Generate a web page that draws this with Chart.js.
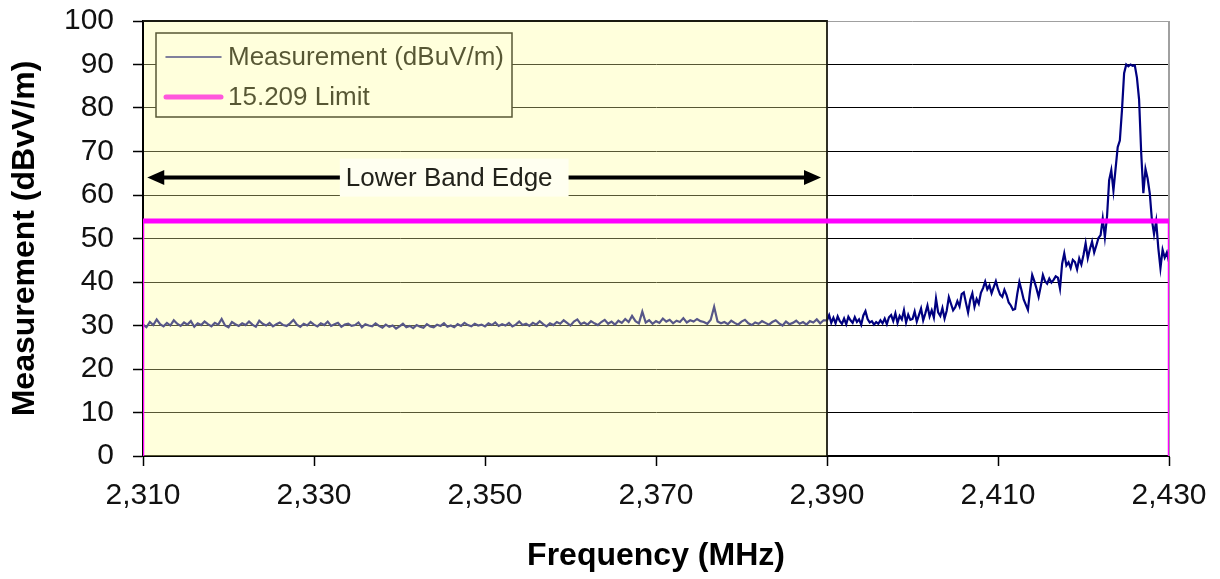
<!DOCTYPE html>
<html>
<head>
<meta charset="utf-8">
<script src="https://cdn.jsdelivr.net/npm/chart.js@4.4.1/dist/chart.umd.min.js"></script>
<style>
  html, body { margin: 0; padding: 0; background: #fff; }
  canvas { display: block; }
</style>
</head>
<body>
<canvas id="band-edge" width="1220" height="579"></canvas>
<script>
'use strict';

// Lower band edge sweep, 2310 - 2389.6 MHz, one reading every 0.4 MHz
const LOW_START = 2310;
const LOW_STEP  = 0.4;
const lowBandDbuv = [
  30.2, 29.6, 30.8, 30.1, 31.4, 30.3, 29.8, 30.6, 30.0, 31.2,
  30.4, 29.9, 30.7, 30.2, 31.0, 29.7, 30.5, 30.1, 30.9, 30.3,
  29.8, 30.6, 30.2, 31.5, 30.0, 29.6, 30.8, 30.3, 29.9, 30.5,
  30.1, 30.9, 30.2, 29.7, 31.1, 30.4, 30.0, 30.6, 29.8, 30.3,
  30.7, 30.1, 29.9, 30.5, 31.3, 30.2, 29.7, 30.4, 30.0, 30.8,
  30.2, 29.8, 30.5, 30.1, 30.9, 29.9, 30.3, 30.6, 29.7, 30.2,
  30.4, 29.9, 30.1, 30.7, 29.6, 30.3, 30.0, 29.8, 30.5, 29.9,
  29.5, 30.2, 29.7, 30.0, 29.3, 29.8, 30.4, 29.6, 29.9, 29.4,
  30.1, 29.7, 29.5, 30.3, 29.8, 29.6, 30.2, 29.9, 30.5, 29.7,
  30.0, 29.6, 30.3, 29.9, 30.6, 30.1, 29.8, 30.4, 30.0, 30.2,
  29.8, 30.5, 30.1, 30.7, 29.9, 30.3, 30.0, 30.6, 29.8, 30.2,
  30.9, 30.1, 30.4, 29.9, 30.6, 30.2, 31.0, 30.3, 29.8, 30.5,
  30.1, 30.8, 30.4, 31.2, 30.6, 30.0, 30.9, 31.4, 30.3, 30.7,
  30.2, 31.0, 30.5, 30.1, 30.8, 31.3, 30.4, 30.9, 30.2, 31.1,
  30.6, 31.5, 30.8, 32.2, 31.0, 30.5, 33.2, 30.7, 31.2, 30.4,
  31.0, 30.6, 31.6, 30.9, 31.3, 30.5, 31.1, 30.8, 31.7, 30.7,
  31.2, 30.9, 31.5, 31.0, 30.8, 30.4, 31.3, 34.3, 30.9, 30.5,
  30.8, 30.3, 31.1, 30.6, 30.2, 30.9, 31.3, 30.5, 30.1, 30.7,
  30.4, 31.0, 30.6, 30.2, 30.8, 31.2, 30.5, 30.0, 30.9, 30.3,
  30.6, 31.1, 30.4, 30.8, 30.2, 31.0, 30.7, 31.4, 30.5, 31.2,
];

// 2390 - 2430 MHz, one reading every 0.25 MHz (carrier near 2425 MHz)
const HIGH_START = 2390;
const HIGH_STEP  = 0.25;
const highBandDbuv = [
  31.2, 32.4, 30.6, 31.8, 30.5, 32.1, 31.0, 30.4,
  31.6, 30.3, 32.0, 31.2, 30.6, 31.9, 30.8, 31.4,
  30.2, 32.3, 33.3, 31.5, 30.7, 31.0, 30.2, 30.8,
  30.4, 31.2, 30.5, 31.6, 30.3, 31.9, 32.4, 31.0,
  32.8, 30.6, 32.2, 31.4, 33.5, 30.7, 32.5, 31.3,
  31.5, 33.2, 30.9, 32.4, 33.9, 31.2, 32.8, 34.6,
  32.1, 33.5, 31.8, 36.2, 33.0, 32.2, 34.0, 31.6,
  33.4, 36.5, 35.0, 33.5, 34.2, 35.6, 34.4, 37.2,
  37.6, 35.2, 33.0, 35.9, 37.4, 34.3, 36.1, 35.0,
  37.5, 38.6, 40.1, 38.3, 39.2, 37.4, 38.8, 40.2,
  38.4, 37.1, 36.6, 38.2, 37.0, 35.3, 34.6, 33.6,
  33.8, 37.2, 40.0, 38.1, 36.0, 34.8, 33.6, 38.0,
  41.6, 40.2, 38.5, 36.6, 39.0, 41.6, 40.2, 39.6,
  40.8, 39.9, 40.5, 41.3, 41.0, 38.5, 44.2, 46.6,
  43.8, 44.5, 43.2, 45.1, 44.6, 42.9, 45.4, 44.0,
  46.2, 48.9, 45.5, 47.6, 49.3, 46.8, 48.4, 50.1,
  50.8, 54.6, 50.3, 55.0, 63.4, 65.7, 61.0, 66.0,
  71.0, 72.5, 79.5, 88.0, 90.0, 89.6, 90.0, 89.7,
  89.8, 87.0, 82.0, 69.6, 60.4, 66.0, 63.8, 60.4,
  54.3, 51.0, 54.0, 47.8, 43.2, 47.4, 45.6, 46.8,
  44.6,
];

// FCC 15.209 limit, closed down to 0 at both ends of the sweep
const LIMIT_FREQ = [2310, 2310, 2430, 2430];
const LIMIT_DBUV = [0, 54, 54, 0];

const SERIES_LABELS = ['Measurement (dBuV/m)', '15.209 Limit'];
const X_TICKS       = [2310, 2330, 2350, 2370, 2390, 2410, 2430];
const X_TICK_LABELS = ['2,310', '2,330', '2,350', '2,370', '2,390', '2,410', '2,430'];
const Y_TICKS       = [0, 10, 20, 30, 40, 50, 60, 70, 80, 90, 100];

// restricted band shading + arrow annotation
const BAND_EDGE   = [2310, 2390];
const BAND_LABEL  = 'Lower Band Edge';
const ARROW_SPAN  = [2310.5, 2389.3];
const ARROW_LEVEL = 64;
const LABEL_FREQ  = 2346.4;

const MEAS_COLOR  = '#000080';
const LIMIT_COLOR = '#ff00ff';
const FONT        = '"Liberation Sans", Arial, sans-serif';

const measPoints = [
  ...lowBandDbuv.map((v, i) => ({ x: +(LOW_START + i * LOW_STEP).toFixed(2), y: v })),
  ...highBandDbuv.map((v, i) => ({ x: +(HIGH_START + i * HIGH_STEP).toFixed(2), y: v })),
];
const limitPoints = LIMIT_FREQ.map((f, i) => ({ x: f, y: LIMIT_DBUV[i] }));

function drawLegend(ctx, area) {
  const left = area.left + 13;
  const top  = area.top + 12;
  ctx.save();
  ctx.fillStyle = '#fff';
  ctx.fillRect(left, top, 356, 84);
  ctx.strokeStyle = '#000';
  ctx.lineWidth = 1.5;
  ctx.strokeRect(left, top, 356, 84);

  const rows = [
    { y: top + 24, color: MEAS_COLOR, width: 1.5 },
    { y: top + 64, color: LIMIT_COLOR, width: 5 },
  ];
  ctx.font = '26px ' + FONT;
  ctx.textBaseline = 'middle';
  ctx.lineCap = 'round';
  rows.forEach((r, i) => {
    ctx.strokeStyle = r.color;
    ctx.lineWidth = r.width;
    ctx.beginPath();
    ctx.moveTo(left + 10, r.y);
    ctx.lineTo(left + 65, r.y);
    ctx.stroke();
    ctx.fillStyle = '#000';
    ctx.fillText(SERIES_LABELS[i], left + 72, r.y + 1);
  });
  ctx.restore();
}

function drawArrowHead(ctx, x, y, dir) {
  ctx.beginPath();
  ctx.moveTo(x, y);
  ctx.lineTo(x - dir * 17, y - 7.5);
  ctx.lineTo(x - dir * 17, y + 7.5);
  ctx.closePath();
  ctx.fill();
}

const bandPlugin = {
  id: 'bandShade',
  beforeDatasetsDraw(chart) {
    const { ctx, chartArea: a } = chart;
    // right edge of the plot frame
    ctx.save();
    ctx.strokeStyle = '#a0a0a0';
    ctx.lineWidth = 2;
    ctx.beginPath();
    ctx.moveTo(a.right, a.top);
    ctx.lineTo(a.right, a.bottom);
    ctx.stroke();
    ctx.restore();
  },
  beforeDatasetDraw(chart, args) {
    if (args.index !== 1) return;
    const { ctx, chartArea: a, scales: { x } } = chart;
    const x0 = x.getPixelForValue(BAND_EDGE[0]);
    const x1 = x.getPixelForValue(BAND_EDGE[1]);

    drawLegend(ctx, a);

    // translucent yellow wash over the restricted band (tints trace, grid and legend)
    ctx.save();
    ctx.fillStyle = 'rgba(255,255,153,0.34)';
    ctx.fillRect(x0 + 1, a.top, x1 - x0 - 1, a.bottom - a.top);
    ctx.strokeStyle = '#1a1a10';
    ctx.lineWidth = 1.8;
    ctx.beginPath();
    ctx.moveTo(x0, a.top);
    ctx.lineTo(x1, a.top);
    ctx.lineTo(x1, a.bottom);
    ctx.stroke();
    ctx.restore();
  },
  afterDatasetsDraw(chart) {
    const { ctx, scales: { x, y } } = chart;
    const yA = y.getPixelForValue(ARROW_LEVEL);
    const xa = x.getPixelForValue(ARROW_SPAN[0]);
    const xb = x.getPixelForValue(ARROW_SPAN[1]);

    ctx.save();
    ctx.strokeStyle = '#000';
    ctx.fillStyle = '#000';
    ctx.lineWidth = 4;
    ctx.beginPath();
    ctx.moveTo(xa + 10, yA);
    ctx.lineTo(xb - 10, yA);
    ctx.stroke();
    drawArrowHead(ctx, xa, yA, -1);
    drawArrowHead(ctx, xb, yA, 1);

    ctx.font = '26px ' + FONT;
    const tw = ctx.measureText(BAND_LABEL).width;
    const cx = x.getPixelForValue(LABEL_FREQ);
    const bw = tw + 22;
    ctx.fillStyle = '#fffff0';
    ctx.fillRect(cx - bw / 2, yA - 19, bw, 38);
    ctx.fillStyle = '#22221a';
    ctx.textBaseline = 'middle';
    ctx.fillText(BAND_LABEL, cx - bw / 2 + 6, yA + 1);
    ctx.restore();
  },
};

new Chart(document.getElementById('band-edge'), {
  type: 'line',
  data: {
    datasets: [
      {
        label: SERIES_LABELS[0],
        data: measPoints,
        borderColor: MEAS_COLOR,
        borderWidth: 2.2,
        pointRadius: 0,
        tension: 0,
        order: 2,
      },
      {
        label: SERIES_LABELS[1],
        data: limitPoints,
        borderColor: LIMIT_COLOR,
        borderWidth: 5,
        pointRadius: 0,
        tension: 0,
        order: 1,
        segment: {
          // the closing verticals are drawn thinner than the limit itself
          borderWidth: c => (c.p0.parsed.x === c.p1.parsed.x ? 2.5 : 5),
        },
      },
    ],
  },
  options: {
    responsive: false,
    animation: false,
    parsing: false,
    layout: { padding: { left: 0, top: 21, right: 51, bottom: 0 } },
    plugins: {
      legend:  { display: false },
      tooltip: { enabled: false },
    },
    scales: {
      x: {
        type: 'linear',
        min: 2310,
        max: 2430,
        afterBuildTicks: s => { s.ticks = X_TICKS.map(v => ({ value: v })); },
        afterFit: s => { s.height = 123; },
        ticks: {
          color: '#111',
          font: { family: FONT, size: 30 },
          padding: 12,
          maxRotation: 0,
          autoSkip: false,
          callback: (v, i) => X_TICK_LABELS[i],
        },
        grid: {
          drawOnChartArea: false,
          tickLength: 10,
          tickColor: '#000',
          tickWidth: 1.5,
        },
        border: { color: '#000', width: 2 },
        title: {
          display: true,
          text: 'Frequency (MHz)',
          color: '#000',
          font: { family: FONT, size: 32, weight: 'bold' },
          padding: { top: 0, bottom: 4 },
        },
      },
      y: {
        min: 0,
        max: 100,
        afterBuildTicks: s => { s.ticks = Y_TICKS.map(v => ({ value: v })); },
        afterFit: s => {
          s.width = 143;
          // keep the "100" label overhang from pushing the plot down
          s.paddingTop = 18;
          s.paddingBottom = 18;
        },
        ticks: {
          color: '#111',
          font: { family: FONT, size: 30 },
          padding: 19,
        },
        grid: {
          color: c => (c.tick && c.tick.value === 100 ? '#a0a0a0' : '#000'),
          lineWidth: 1,
          tickLength: 10,
          tickColor: '#000',
          tickWidth: 1.5,
        },
        border: { color: '#000', width: 2 },
        title: {
          display: true,
          text: 'Measurement (dBvV/m)',
          color: '#000',
          font: { family: FONT, size: 32, weight: 'bold' },
          padding: { top: 6, bottom: 0 },
        },
      },
    },
  },
  plugins: [bandPlugin],
});
</script>
</body>
</html>
